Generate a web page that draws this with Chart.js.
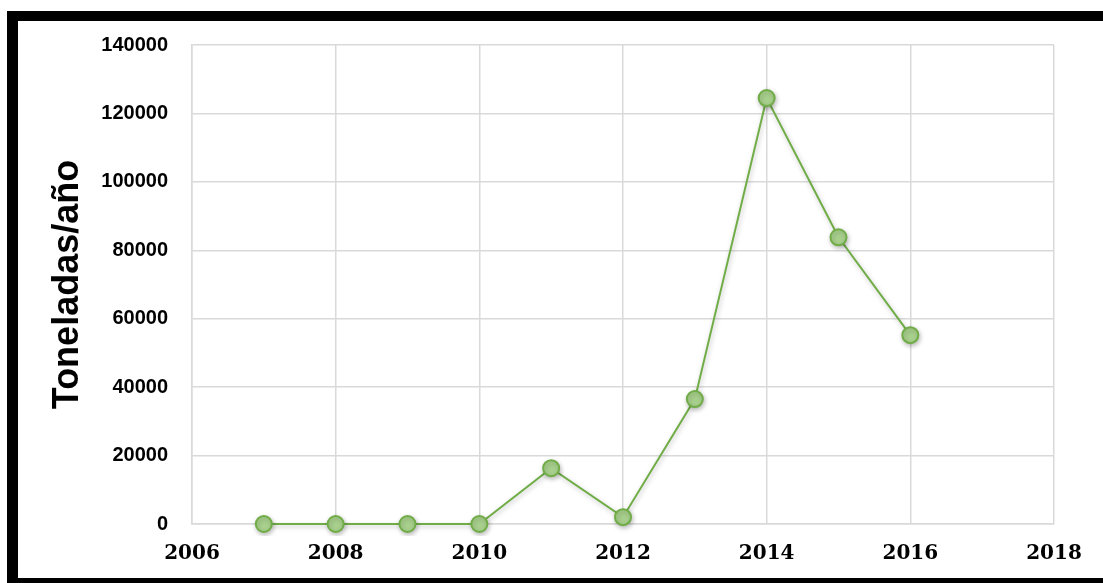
<!DOCTYPE html>
<html>
<head>
<meta charset="utf-8">
<script src="https://cdn.jsdelivr.net/npm/chart.js@4.4.0/dist/chart.umd.min.js"></script>
<style>
html,body{margin:0;padding:0;background:#fff;overflow:hidden;}
#wrap{position:relative;width:1103px;height:583px;overflow:hidden;}
#frame{position:absolute;left:7px;top:11px;width:1200px;height:557px;border-left:11px solid #000;border-top:10px solid #000;border-bottom:10px solid #000;pointer-events:none;}
</style>
</head>
<body>
<div id="wrap">
  <canvas id="c" width="1103" height="583"></canvas>
  <div id="frame"></div>
</div>
<script>
/* production by year, tonnes */
const years=[2007,2008,2009,2010,2011,2012,2013,2014,2015,2016];
const tonnes=[0,0,0,0,16300,2000,36500,124500,83800,55200];
const yTitle='Toneladas/año';
const xMin=2006,xMax=2018,xStep=2;
const yMax=140000,yStep=20000;

const lineGreen='#70ad47',dotGreen='#a9d18e',gridGray='#d9d9d9';

// soft drop shadow under the series, like the office-style markers
const shadow={
  id:'shadow',
  beforeDatasetDraw(chart){
    const ctx=chart.ctx;
    ctx.save();
    ctx.shadowColor='rgba(0,0,0,0.25)';
    ctx.shadowBlur=5;
    ctx.shadowOffsetX=1;
    ctx.shadowOffsetY=2;
  },
  afterDatasetDraw(chart){chart.ctx.restore();}
};

new Chart(document.getElementById('c'),{
  type:'line',
  data:{datasets:[{
    data:years.map((y,i)=>({x:y,y:tonnes[i]})),
    borderColor:lineGreen,borderWidth:2,
    pointBackgroundColor:dotGreen,pointBorderColor:lineGreen,pointBorderWidth:2,
    pointRadius:8,pointHoverRadius:8,tension:0,fill:false,clip:12
  }]},
  plugins:[shadow],
  options:{
    responsive:false,animation:false,
    layout:{padding:{left:20,top:45,right:49,bottom:0}},
    plugins:{legend:{display:false},tooltip:{enabled:false}},
    scales:{
      x:{type:'linear',min:xMin,max:xMax,
        ticks:{stepSize:xStep,padding:18,color:'#000',callback:v=>String(v),
          font:{family:'"DejaVu Serif", serif',weight:'bold',size:20}},
        grid:{color:gridGray,lineWidth:1.5,drawTicks:false},
        border:{color:gridGray,width:1.5},
        afterFit(s){s.height=59;}
      },
      y:{min:0,max:yMax,
        ticks:{stepSize:yStep,padding:24,color:'#000',callback:v=>String(v),
          font:{family:'"Liberation Sans", Arial, sans-serif',weight:'bold',size:20}},
        grid:{color:gridGray,lineWidth:1.5,drawTicks:false},
        border:{color:gridGray,width:1.5},
        title:{display:true,text:yTitle,color:'#000',padding:{top:26,bottom:0},
          font:{family:'"Liberation Sans", Arial, sans-serif',weight:'bold',size:36}},
        afterFit(s){s.width=172;}
      }
    }
  }
});
</script>
</body>
</html>
